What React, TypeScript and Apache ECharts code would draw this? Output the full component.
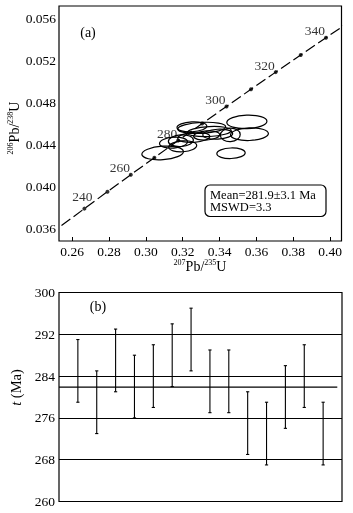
import React, { useEffect, useRef } from "react";
import * as echarts from "echarts";

const FONT = '"Liberation Serif", "Times New Roman", serif';

// Concordia reference points (age in Ma, 207Pb/235U, 206Pb/238U)
const concordiaAges = [230, 240, 250, 260, 270, 280, 290, 300, 310, 320, 330, 340, 350];
const concordiaX = [0.25422, 0.26664, 0.27917, 0.29183, 0.30462, 0.31753, 0.33057, 0.34374, 0.35704, 0.37047, 0.38403, 0.39773, 0.41156];
const concordiaY = [0.036322, 0.037932, 0.039543, 0.041157, 0.042773, 0.044392, 0.046013, 0.047637, 0.049263, 0.050893, 0.052524, 0.054158, 0.055794];
const markedAges = [240, 250, 260, 270, 280, 290, 300, 310, 320, 330, 340];
const labelledAges = [240, 260, 280, 300, 320, 340];

// Error ellipses of the analysed spots
const ellX = [0.3344, 0.315, 0.3303, 0.326, 0.3562, 0.325, 0.3548, 0.3458, 0.333, 0.32, 0.3091, 0.319, 0.339, 0.3462];
const ellY = [0.04525, 0.0442, 0.0456, 0.0447, 0.045, 0.0457, 0.04617, 0.04493, 0.04488, 0.04385, 0.04322, 0.04438, 0.045, 0.04319];
const ellSX = [0.0119, 0.0076, 0.013, 0.0087, 0.0103, 0.0081, 0.0109, 0.0054, 0.0071, 0.0076, 0.0113, 0.0068, 0.0081, 0.0077];
const ellSY = [0.00047, 0.00052, 0.00052, 0.00047, 0.0006, 0.00047, 0.00064, 0.00064, 0.00043, 0.00052, 0.00064, 0.00055, 0.00047, 0.0005];
const ellTilt = [3, 4, 3, 4, 2, 3, 2, 3, 4, 4, 4, 4, 3, 2];

const xTicks = [0.26, 0.28, 0.3, 0.32, 0.34, 0.36, 0.38, 0.4];
const yTicks = [0.036, 0.04, 0.044, 0.048, 0.052, 0.056];

// Individual spot ages (Ma) with error range
const spots = [1, 2, 3, 4, 5, 6, 7, 8, 9, 10, 11, 12, 13, 14];
const ageHigh = [291, 285, 293, 288, 290, 294, 297, 289, 289, 281, 279, 286, 290, 279];
const ageLow = [279, 273, 281, 276, 278, 282, 285, 277, 277, 269, 267, 274, 278, 267];

const meanAge = 281.9;
const meanErr = 3.1;
const mswd = 3.3;

export default function App() {
  const ref = useRef<HTMLDivElement>(null);

  useEffect(() => {
    if (!ref.current) return;
    const chart = echarts.init(ref.current, undefined, { renderer: "svg" });

    const dotData = markedAges.map((a) => {
      const i = concordiaAges.indexOf(a);
      const lab = labelledAges.indexOf(a) >= 0;
      return {
        value: [concordiaX[i], concordiaY[i], a],
        label: {
          show: lab,
          position: "inside",
          offset: a === 240 ? [-2, -12] : [-11, -7],
        },
      };
    });

    const ellData = ellX.map((x, i) => [x, ellY[i], ellSX[i], ellSY[i], ellTilt[i]]);
    const barData = spots.map((s, i) => [s, ageLow[i], ageHigh[i]]);

    const supRich = {
      n: { fontSize: 14, lineHeight: 15, fontFamily: FONT, fill: "#000", verticalAlign: "bottom" },
      s: { fontSize: 8, lineHeight: 8, fontFamily: FONT, fill: "#000", verticalAlign: "top" },
    };

    const option: any = {
      animation: false,
      textStyle: { fontFamily: FONT, color: "#000" },
      grid: [
        { left: 59, top: 6, width: 282.5, height: 235, show: true, borderColor: "#000", borderWidth: 1.2, containLabel: false },
        { left: 59, top: 292.5, width: 283, height: 209, show: true, borderColor: "#000", borderWidth: 1.2, containLabel: false },
      ],
      xAxis: [
        {
          type: "value",
          gridIndex: 0,
          min: 0.25287,
          max: 0.40615,
          axisLine: { show: false },
          axisTick: { show: true, inside: true, length: 4, lineStyle: { color: "#000", width: 1 }, customValues: xTicks },
          axisLabel: { customValues: xTicks, formatter: (v: number) => v.toFixed(2), margin: 3, fontSize: 13.5, color: "#000", fontFamily: FONT },
          splitLine: { show: false },
        },
        {
          type: "value",
          gridIndex: 1,
          min: 0,
          max: 15,
          show: false,
          splitLine: { show: false },
        },
      ],
      yAxis: [
        {
          type: "value",
          gridIndex: 0,
          min: 0.03486,
          max: 0.05717,
          axisLine: { show: false },
          axisTick: { show: false, customValues: yTicks },
          axisLabel: { customValues: yTicks, formatter: (v: number) => v.toFixed(3), margin: 3, fontSize: 13.5, color: "#000", fontFamily: FONT },
          splitLine: { show: false },
        },
        {
          type: "value",
          gridIndex: 1,
          min: 260,
          max: 300,
          interval: 8,
          axisLine: { show: false },
          axisTick: { show: false },
          axisLabel: { margin: 4, fontSize: 13.5, color: "#000", fontFamily: FONT },
          splitLine: { show: true, lineStyle: { color: "#000", width: 1.2 } },
        },
      ],
      series: [
        {
          type: "line",
          xAxisIndex: 0,
          yAxisIndex: 0,
          data: concordiaAges.map((a, i) => [concordiaX[i], concordiaY[i]]),
          showSymbol: false,
          clip: true,
          lineStyle: { color: "#000", width: 1.2, type: [11, 4] },
          silent: true,
          z: 2,
        },
        {
          type: "custom",
          xAxisIndex: 0,
          yAxisIndex: 0,
          clip: true,
          data: ellData,
          renderItem: (params: any, api: any) => {
            const c = api.coord([api.value(0), api.value(1)]);
            const s = api.size([api.value(2), api.value(3)]);
            return {
              type: "ellipse",
              x: c[0],
              y: c[1],
              rotation: (api.value(4) * Math.PI) / 180,
              shape: { cx: 0, cy: 0, rx: s[0], ry: s[1] },
              style: { fill: "none", stroke: "#000", lineWidth: 1.2 },
            };
          },
          z: 3,
        },
        {
          type: "scatter",
          xAxisIndex: 0,
          yAxisIndex: 0,
          data: dotData,
          symbol: "circle",
          symbolSize: 4,
          itemStyle: { color: "#000" },
          label: {
            show: true,
            formatter: (p: any) => String(p.value[2]),
            fontSize: 13.5,
            color: "#000",
            fontFamily: FONT,
          },
          z: 4,
        },
        {
          type: "custom",
          xAxisIndex: 1,
          yAxisIndex: 1,
          data: barData,
          renderItem: (params: any, api: any) => {
            const lo = api.coord([api.value(0), api.value(1)]);
            const hi = api.coord([api.value(0), api.value(2)]);
            const w = 1.6;
            const st = { stroke: "#000", lineWidth: 1.1 };
            return {
              type: "group",
              children: [
                { type: "line", shape: { x1: lo[0], y1: lo[1], x2: hi[0], y2: hi[1] }, style: st },
                { type: "line", shape: { x1: lo[0] - w, y1: lo[1], x2: lo[0] + w, y2: lo[1] }, style: st },
                { type: "line", shape: { x1: hi[0] - w, y1: hi[1], x2: hi[0] + w, y2: hi[1] }, style: st },
              ],
            };
          },
        },
        {
          type: "line",
          xAxisIndex: 1,
          yAxisIndex: 1,
          data: [
            [0, meanAge],
            [14.75, meanAge],
          ],
          showSymbol: false,
          lineStyle: { color: "#000", width: 1.2 },
          silent: true,
        },
      ],
      graphic: [
        {
          type: "text",
          x: 88,
          y: 32,
          style: { text: "(a)", fontSize: 14, fontFamily: FONT, fill: "#000", align: "center", verticalAlign: "middle" },
        },
        {
          type: "text",
          x: 98,
          y: 306.5,
          style: { text: "(b)", fontSize: 14, fontFamily: FONT, fill: "#000", align: "center", verticalAlign: "middle" },
        },
        {
          type: "text",
          x: 13.5,
          y: 128,
          rotation: Math.PI / 2,
          style: {
            text: "{s|206}{n|Pb/}{s|238}{n|U}",
            rich: supRich,
            align: "center",
            verticalAlign: "middle",
          },
        },
        {
          type: "text",
          x: 200,
          y: 266,
          style: {
            text: "{s|207}{n|Pb/}{s|235}{n|U}",
            rich: supRich,
            align: "center",
            verticalAlign: "middle",
          },
        },
        {
          type: "text",
          x: 16,
          y: 387.5,
          rotation: Math.PI / 2,
          style: {
            text: "{i|t}{n| (Ma)}",
            rich: {
              i: { fontSize: 14.5, fontStyle: "italic", fontFamily: FONT, fill: "#000" },
              n: { fontSize: 14.5, fontFamily: FONT, fill: "#000" },
            },
            align: "center",
            verticalAlign: "middle",
          },
        },
        {
          type: "rect",
          shape: { x: 205, y: 185, width: 121, height: 31.5, r: 5 },
          style: { fill: "#fff", stroke: "#000", lineWidth: 1.2 },
          z: 10,
        },
        {
          type: "text",
          x: 210,
          y: 188.5,
          z: 11,
          style: {
            text: `Mean=${meanAge.toFixed(1)}±${meanErr.toFixed(1)} Ma\nMSWD=${mswd.toFixed(1)}`,
            fontSize: 12.5,
            lineHeight: 12.6,
            fontFamily: FONT,
            fill: "#000",
            align: "left",
            verticalAlign: "top",
          },
        },
      ],
    };

    chart.setOption(option);
    return () => chart.dispose();
  }, []);

  return <div ref={ref} style={{ position: "fixed", left: 0, top: 0, width: 353, height: 513 }} />;
}
